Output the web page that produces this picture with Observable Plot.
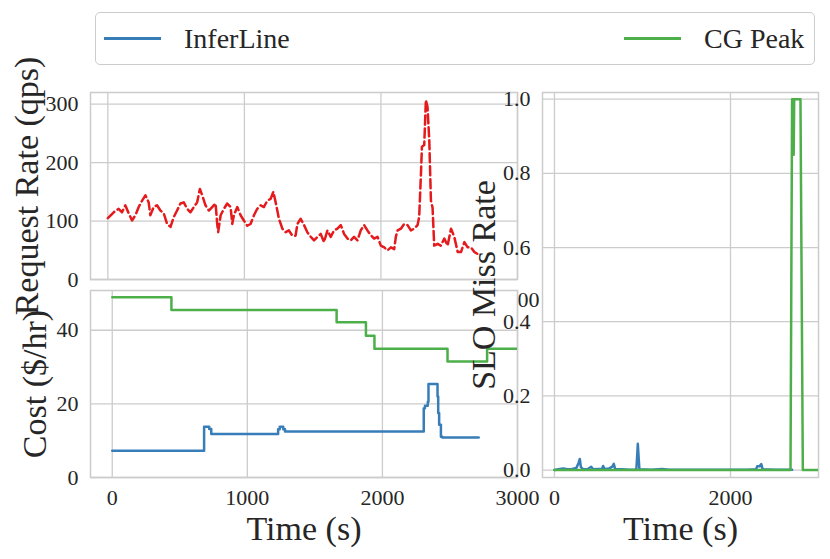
<!DOCTYPE html>
<html><head><meta charset="utf-8">
<script src="https://cdn.jsdelivr.net/npm/d3@7"></script>
<script src="https://cdn.jsdelivr.net/npm/@observablehq/plot@0.6"></script>
<style>
body{margin:0;background:#fff;}
#fig{position:relative;width:830px;height:559px;overflow:hidden;font-family:"Liberation Serif","Times New Roman",serif;color:#262626;}
#fig svg{position:absolute;left:0;top:0;}
#fig svg text{font-family:"Liberation Serif","Times New Roman",serif;}
.legend{position:absolute;left:95px;top:12px;width:720px;height:53px;box-sizing:border-box;border:1.3px solid #ccc;border-radius:5px;background:#fff;}
.item{position:absolute;top:0;height:100%;display:flex;align-items:center;font-size:28px;}
.sw{display:inline-block;width:57px;height:2.5px;margin-right:23px;}
</style></head><body><div id="fig"></div>
<script>
// ---- data ----
const seriesNames = ["InferLine", "CG Peak"];
const seriesColors = ["#377eb8", "#4daf4a"];
const requestColor = "#e41a1c";

const reqTime = [0,43,79,104,128,153,177,202,226,251,275,299,311,336,360,385,410,434,459,483,507,532,556,581,605,630,654,674,691,715,740,764,789,801,808,826,850,874,899,911,923,948,972,996,1021,1045,1070,1094,1119,1143,1168,1192,1212,1229,1253,1278,1302,1326,1351,1375,1388,1412,1437,1461,1486,1510,1535,1559,1583,1608,1632,1657,1681,1706,1730,1755,1779,1803,1828,1852,1877,1901,1926,1950,1975,1999,2024,2048,2073,2097,2109,2122,2146,2170,2195,2219,2244,2268,2280,2293,2300,2317,2329,2341,2354,2366,2378,2390,2415,2439,2464,2488,2513,2537,2562,2586,2611,2635,2660,2684,2705];
const reqRate = [105,115,121,115,127,113,101,110,124,135,144,132,110,124,127,118,113,95,90,107,118,130,132,121,115,124,132,155,144,127,118,124,130,95,81,110,121,130,124,95,110,124,110,101,92,95,110,121,127,124,135,138,150,132,104,87,81,84,75,75,95,104,93,81,73,67,73,78,64,84,73,84,87,93,78,70,67,73,67,84,93,84,76,70,73,58,55,50,55,52,73,84,87,95,93,84,87,93,107,181,227,230,307,295,238,135,123,58,61,58,70,58,87,73,47,47,64,55,55,47,44];

const costTimeInferLine = [0,680,718,733,1228,1240,1266,1279,2306,2315,2336,2341,2408,2413,2420,2433,2443,2713];
const costInferLine =     [7.3,13.8,13.2,11.8,13.1,13.8,13.1,12.5,18.8,19.5,20.6,25.4,22,17.5,14.3,11.1,10.9,10.9];
const costTimeCG = [0,438,1661,1878,1941,2482,2775,3000];
const costCG =     [49.0,45.5,42.2,38.5,35.0,31.5,35.0,35.0];

const sloTimeInferLine = [0,60,100,150,200,250,275,288,300,330,380,417,440,500,540,553,570,620,660,674,690,760,850,930,940,947,955,965,1100,1223,1300,2200,2290,2303,2330,2350,2365,2500,2700];
const sloInferLine =     [0,0.003,0.004,0.002,0.003,0.006,0.02,0.03,0.008,0.002,0.003,0.009,0.002,0.003,0.003,0.011,0.003,0.004,0.01,0.017,0.002,0.002,0.001,0.001,0.04,0.071,0.04,0.002,0.001,0.003,0.001,0.001,0.002,0.01,0.01,0.016,0.002,0.001,0.001];
const sloTimeCG = [0,2682,2700,2712,2718,2724,2795,2822,3000];
const sloCG =     [0,0,1.0,1.0,0.85,1.0,1.0,0,0];

const reqTicksX = [0,1000,2000,3000];
const reqTicksY = [0,100,200,300];
const costTicksY = [0,20,40];
const sloTicksX = [0,2000];
const sloTicksY = [0,0.2,0.4,0.6,0.8,1.0];

// ---- build ----
const zip = (xs, ys) => xs.map((t, i) => ({t, v: ys[i]}));
const reqData = zip(reqTime, reqRate);
const costData = [
  ...zip(costTimeInferLine, costInferLine).map(d => ({...d, s: seriesNames[0]})),
  ...zip(costTimeCG, costCG).map(d => ({...d, s: seriesNames[1]}))
];
const sloData = [
  ...zip(sloTimeInferLine, sloInferLine).map(d => ({...d, s: seriesNames[0]})),
  ...zip(sloTimeCG, sloCG).map(d => ({...d, s: seriesNames[1]}))
];

const FONT = '"Liberation Serif","Times New Roman",serif';
const common = {
  width: 830, height: 559,
  style: {background: "transparent", fontFamily: FONT, fontSize: "22px", color: "#262626", overflow: "visible"},
  color: {domain: seriesNames, range: seriesColors}
};
const gridStyle = {stroke: "#cccccc", strokeOpacity: 1, strokeWidth: 1.3};
const frameStyle = {stroke: "#cccccc", strokeOpacity: 1, strokeWidth: 1.5};
const intFmt = d3.format("d");
const xAxisOpts = {tickSize: 0, tickPadding: 12, label: null, fontSize: 22};
const yAxisOpts = {tickSize: 0, tickPadding: 12, label: null, fontSize: 22};
const ylab = (s, dx) => Plot.text([s], {text: d => d, frameAnchor: "left", rotate: -90, textAnchor: "middle", lineAnchor: "bottom", dx, fontSize: 34});
const xlab = (s) => Plot.text([s], {text: d => d, frameAnchor: "bottom", textAnchor: "middle", lineAnchor: "bottom", dy: 62, fontSize: 34});

const topPlot = Plot.plot({
  ...common,
  marginLeft: 90, marginRight: 313, marginTop: 92, marginBottom: 280,
  x: {domain: [-127, 3000]}, y: {domain: [0, 320]},
  marks: [
    Plot.gridX(reqTicksX, gridStyle),
    Plot.gridY(reqTicksY, gridStyle),
    Plot.frame(frameStyle),
    Plot.axisX(reqTicksX, {...xAxisOpts, tickFormat: intFmt}),
    Plot.axisY(reqTicksY, {...yAxisOpts, tickFormat: intFmt}),
    Plot.line(reqData, {x: "t", y: "v", stroke: requestColor, strokeWidth: 2.5, strokeDasharray: "9,4", clip: true}),
    ylab("Request Rate (qps)", -53)
  ]
});

const bottomPlot = Plot.plot({
  ...common,
  marginLeft: 90, marginRight: 313, marginTop: 290, marginBottom: 82,
  x: {domain: [-161, 3000]}, y: {domain: [0, 50.8]},
  marks: [
    Plot.frame({fill: "white"}),
    Plot.gridX(reqTicksX, gridStyle),
    Plot.gridY(costTicksY, gridStyle),
    Plot.frame(frameStyle),
    Plot.axisX(reqTicksX, {...xAxisOpts, tickFormat: intFmt}),
    Plot.axisY(costTicksY, {...yAxisOpts, tickFormat: intFmt}),
    Plot.line(costData, {x: "t", y: "v", z: "s", stroke: "s", strokeWidth: 2.5, curve: "step-after", clip: true}),
    ylab("Cost ($/hr)", -45),
    xlab("Time (s)")
  ]
});

const rightPlot = Plot.plot({
  ...common,
  marginLeft: 542, marginRight: 12, marginTop: 92, marginBottom: 82,
  x: {domain: [-136, 3000]}, y: {domain: [-0.02, 1.018]},
  marks: [
    Plot.frame({fill: "white"}),
    Plot.gridX(sloTicksX, gridStyle),
    Plot.gridY(sloTicksY, gridStyle),
    Plot.frame(frameStyle),
    Plot.axisX(sloTicksX, {...xAxisOpts, tickFormat: intFmt}),
    Plot.axisY(sloTicksY, {...yAxisOpts, tickFormat: d3.format(".1f")}),
    Plot.line(sloData, {x: "t", y: "v", z: "s", stroke: "s", strokeWidth: 2.5, clip: true}),
    ylab("SLO Miss Rate", -48),
    xlab("Time (s)")
  ]
});

const fig = document.getElementById("fig");
fig.append(topPlot, bottomPlot, rightPlot);

// legend (HTML, above the charts)
const legend = document.createElement("div");
legend.className = "legend";
const offsets = [8, 528];
seriesNames.forEach((name, i) => {
  const item = document.createElement("div");
  item.className = "item";
  item.style.left = offsets[i] + "px";
  const sw = document.createElement("span");
  sw.className = "sw";
  sw.style.background = seriesColors[i];
  item.append(sw, document.createTextNode(name));
  legend.append(item);
});
fig.append(legend);
</script>
</body></html>
